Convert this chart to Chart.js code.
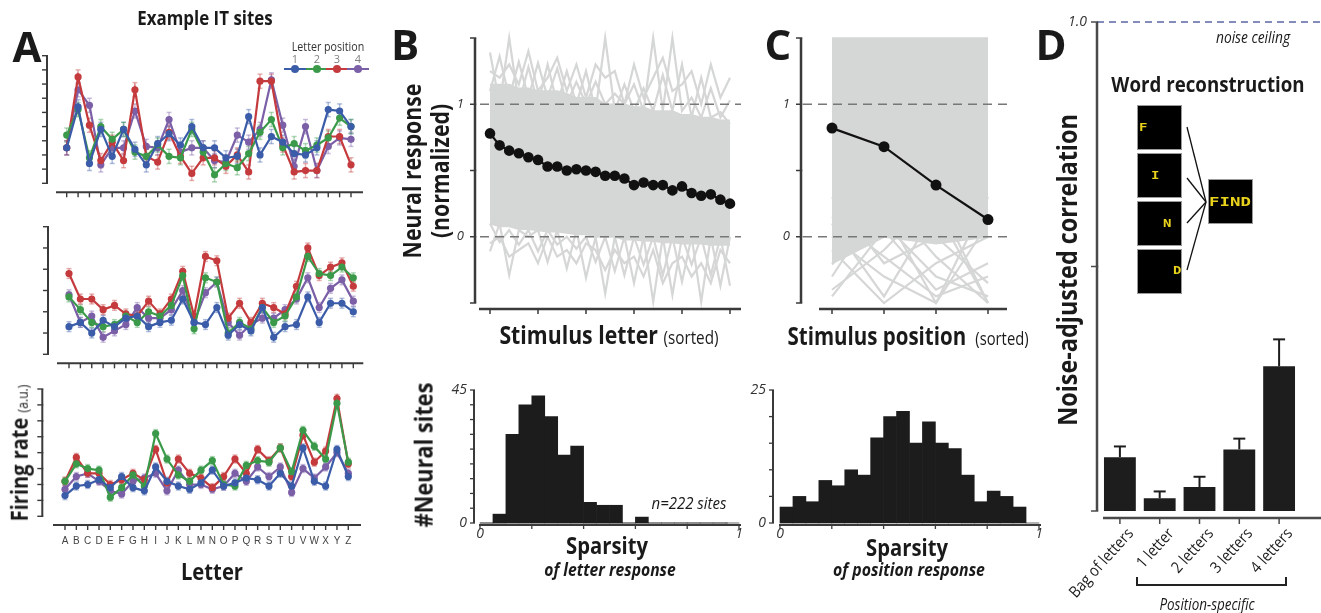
<!DOCTYPE html>
<html>
<head>
<meta charset="utf-8">
<title>Letter and position coding in IT</title>
<script src="https://cdn.jsdelivr.net/npm/chart.js@4.4.1/dist/chart.umd.min.js"></script>
<style>
  body { margin: 0; width: 1321px; height: 613px; position: relative; overflow: hidden; background: #fff; font-family: 'Open Sans', sans-serif; color: #1a1a1a; }
  canvas { position: absolute; left: 0; top: 0; }
  .lbl { position: absolute; left: 0; top: 0; white-space: nowrap; line-height: 1.15; }
  .num { position: absolute; font-size: 11px; color: #808080; line-height: 1; width: 10px; text-align: center; }
  .box { position: absolute; background: #000; border: 1px solid #9a9a9a; box-sizing: border-box; }
  .glyph { position: absolute; color: #e8d21c; font-family: 'DejaVu Sans Mono', monospace; font-weight: bold; line-height: 1; transform-origin: left top; }
</style>
</head>
<body>
<script>
const W = 1321
const H = 613

// ---------- panel A : example IT sites (firing rate, a.u.) ----------
const letters = ['A','B','C','D','E','F','G','H','I','J','K','L','M','N','O','P','Q','R','S','T','U','V','W','X','Y','Z']
const posNames = ['1', '2', '3', '4']
const posColors = ['#3b5ca8', '#3a9a4a', '#c43a3d', '#7b5fa7']
const posFaded = ['rgba(59,92,168,0.4)', 'rgba(58,154,74,0.4)', 'rgba(196,58,61,0.4)', 'rgba(123,95,167,0.4)']

const site1Pos1 = [25,54,14,38,19,38,24,13,28,35,27,40,25,25,18,19,47,20,33,29,21,20,25,52,51,40]
const site1Pos2 = [34,52,18,40,31,38,22,19,27,19,18,38,22,6,14,11,21,36,45,25,28,23,27,32,46,40]
const site1Pos3 = [25,75,41,16,29,16,66,19,15,36,19,7,18,18,12,20,8,72,72,27,8,9,9,33,33,13]
const site1Pos4 = [25,66,55,13,25,25,51,26,25,45,22,25,25,16,15,34,29,38,73,41,12,40,9,26,32,31]
const site1Err = [5, 5, 5, 5]

const site2Pos1 = [13,15,10,16,13,17,18,13,15,16,26,15,14,22,9,14,11,22,8,13,14,27,15,24,24,20]
const site2Pos2 = [27,21,15,13,14,18,15,20,18,23,37,12,36,34,10,15,12,22,15,18,27,46,38,37,41,36]
const site2Pos3 = [38,26,26,21,23,19,18,25,19,26,39,18,46,44,17,24,15,24,22,19,32,50,37,41,43,32]
const site2Pos4 = [28,15,18,8,11,14,22,17,17,21,30,15,29,34,15,9,14,17,17,21,26,36,22,31,35,25]
const site2Err = [2.3, 2.3, 2.3, 2.3]

const site3Pos1 = [13,19,20,23,18,25,18,16,31,22,19,17,21,29,19,21,24,23,19,27,19,43,22,19,42,25]
const site3Pos2 = [22,33,30,29,12,18,26,19,52,36,26,22,29,35,20,19,32,35,34,43,28,54,44,36,71,34]
const site3Pos3 = [22,37,27,27,20,23,27,23,42,21,36,27,24,18,25,36,27,42,35,43,25,51,34,41,74,33]
const site3Pos4 = [17,25,27,22,16,14,22,24,27,16,29,20,20,17,19,27,22,31,25,31,15,30,24,31,40,27]
const site3Err = [2.5, 2.5, 2.5, 2.5]

// ---------- panel B : normalized response to sorted letters ----------
const letterRanks = [1,2,3,4,5,6,7,8,9,10,11,12,13,14,15,16,17,18,19,20,21,22,23,24,25,26]
const letterMean = [0.78,0.69,0.65,0.63,0.60,0.58,0.53,0.53,0.50,0.51,0.50,0.49,0.46,0.46,0.44,0.39,0.41,0.39,0.39,0.35,0.38,0.33,0.31,0.32,0.28,0.25]
// dense part of the 222 single-site curves, then some of the curves that leave it
const letterCoreHi = [1.15,1.15,1.15,1.12,1.12,1.10,1.10,1.10,1.08,1.05,1.05,1.05,1.00,1.00,1.00,0.98,0.98,0.95,0.95,0.95,0.92,0.92,0.90,0.90,0.88,0.88]
const letterCoreLo = [0.10,0.08,0.08,0.06,0.06,0.05,0.04,0.04,0.03,0.02,0.02,0.00,0.00,0.00,-0.02,-0.02,-0.03,-0.03,-0.04,-0.04,-0.05,-0.05,-0.05,-0.06,-0.06,-0.06]
const letterSiteHi1 = [1.39,1.00,1.50,1.00,1.28,1.00,1.30,1.00,1.25,1.00,1.25,0.95,1.50,0.95,1.15,0.95,1.12,0.95,1.22,0.95,1.30,0.90,1.20,0.90,0.94,0.85]
const letterSiteHi2 = [1.10,1.36,1.05,1.32,1.05,1.31,1.05,1.27,1.00,1.17,1.00,1.17,1.00,1.08,1.00,1.15,0.95,1.50,0.95,1.50,0.95,1.05,0.90,1.12,0.90,1.03]
const letterSiteHi3 = [1.25,1.20,1.30,1.15,1.40,1.10,1.20,1.35,1.10,1.30,1.05,1.30,1.20,1.25,1.00,1.30,1.05,1.20,1.35,1.10,1.15,1.25,1.00,1.30,1.05,1.20]
const letterSiteLo1 = [-0.11,0.10,-0.29,0.05,0.00,0.05,-0.19,0.05,-0.24,0.05,-0.31,0.00,-0.43,0.00,-0.29,0.00,-0.21,0.00,-0.29,0.00,-0.34,0.00,-0.49,0.00,-0.37,0.00]
const letterSiteLo2 = [0.10,-0.04,0.05,-0.06,0.05,-0.11,0.05,-0.06,0.00,-0.09,0.00,-0.19,0.00,-0.26,0.00,-0.35,0.00,-0.49,0.00,-0.44,0.00,-0.21,0.00,-0.29,0.00,-0.37]
const letterSiteLo3 = [-0.05,0.00,-0.15,-0.10,-0.05,-0.20,0.00,-0.15,-0.10,-0.20,-0.05,-0.10,-0.25,-0.10,-0.20,-0.15,-0.30,-0.10,-0.35,-0.20,-0.15,-0.30,-0.20,-0.35,-0.10,-0.20]

// ---------- panel C : normalized response to sorted positions ----------
const positionRanks = [1, 2, 3, 4]
const positionMean = [0.82, 0.68, 0.39, 0.13]
const positionCoreHi = [1.50, 1.50, 1.50, 1.50]
const positionCoreLo = [-0.20, 0.00, -0.05, 0.00]
const positionSite1 = [-0.21, 0.20, -0.50, 0.10]
const positionSite2 = [0.10, -0.45, 0.20, -0.50]
const positionSite3 = [-0.40, -0.10, 0.30, -0.50]
const positionSite4 = [0.00, -0.30, -0.50, 0.30]
const positionSite5 = [0.20, 0.10, -0.30, -0.45]
const positionSite6 = [-0.30, 0.30, -0.15, -0.50]
const positionSite7 = [-0.10, -0.50, -0.20, 0.00]
const positionSite8 = [0.30, -0.20, 0.00, -0.35]
const positionSite9 = [-0.45, 0.05, -0.40, -0.20]
const positionSite10 = [0.15, -0.15, -0.45, -0.30]

// ---------- sparsity histograms ----------
const sparsityBinStart = [0,0.05,0.1,0.15,0.2,0.25,0.3,0.35,0.4,0.45,0.5,0.55,0.6,0.65,0.7,0.75,0.8,0.85,0.9,0.95]
const sparsityBinWidth = 0.05
const letterSparsityCounts = [0,3,30,40,43,36,23,26,7,6,6,0,2,0,0,0,0,0,0,0]
const positionSparsityCounts = [3,5,4,8,7,10,9,16,20,21,15,19,15,14,9,4,6,5,3,0]

// ---------- panel D : word reconstruction ----------
const models = ['Bag of letters', '1 letter', '2 letters', '3 letters', '4 letters']
const modelCorr = [0.110, 0.026, 0.049, 0.126, 0.296]
const modelErr = [0.022, 0.014, 0.021, 0.022, 0.055]


function seg(ctx, x0, y0, x1, y1) {
  ctx.beginPath()
  ctx.moveTo(x0, y0)
  ctx.lineTo(x1, y1)
  ctx.stroke()
}

// detached axes (spines), ticks and the few tick labels, all placed through the chart scales
function drawSpines(chart, a) {
  const ctx = chart.ctx
  const ca = chart.chartArea
  const x = chart.scales.x
  const y = chart.scales.y
  ctx.save()
  ctx.strokeStyle = a.color || '#333'
  ctx.lineWidth = a.width || 2
  const sx = ca.left - a.yGap
  seg(ctx, sx, y.getPixelForValue(y.max), sx, y.getPixelForValue(y.min))
  ctx.lineWidth = a.tickWidth || 1.5
  a.yTicks.forEach(v => {
    const p = y.getPixelForValue(v)
    seg(ctx, sx - a.tickLen, p, sx + (a.width || 2) / 2, p)
  })
  const sy = ca.bottom + a.xGap
  ctx.lineWidth = a.width || 2
  seg(ctx, ca.left - a.xExt[0], sy, ca.right + a.xExt[1], sy)
  ctx.lineWidth = a.tickWidth || 1.5
  a.xTicks.forEach(v => {
    const p = x.getPixelForValue(v)
    seg(ctx, p, sy, p, sy + a.tickLen)
  })
  ctx.fillStyle = a.labelColor || '#333'
  if (a.yLabels) {
    ctx.font = a.yFont
    ctx.textAlign = 'right'
    ctx.textBaseline = 'middle'
    a.yLabels.forEach(l => ctx.fillText(l[1], sx - a.tickLen - a.yLabelGap, y.getPixelForValue(l[0])))
  }
  if (a.xLabels) {
    ctx.font = a.xFont
    ctx.textAlign = 'center'
    ctx.textBaseline = 'top'
    a.xLabels.forEach(l => ctx.fillText(l[1], x.getPixelForValue(l[0]), sy + a.xLabelGap))
  }
  ctx.restore()
}

function drawHlines(chart, a) {
  const ctx = chart.ctx
  const ca = chart.chartArea
  const y = chart.scales.y
  a.hlines.forEach(h => {
    ctx.save()
    ctx.strokeStyle = h.color
    ctx.lineWidth = h.width
    ctx.setLineDash(h.dash || [])
    const p = y.getPixelForValue(h.v)
    seg(ctx, ca.left - h.ext[0], p, ca.right + h.ext[1], p)
    ctx.restore()
  })
}

const axesPlugin = {
  id: 'spines',
  beforeDatasetsDraw(chart) {
    const a = chart.canvas.axesCfg
    if (a && a.hlines && a.hlinesAfter === -1) drawHlines(chart, a)
  },
  afterDatasetDraw(chart, args) {
    const a = chart.canvas.axesCfg
    if (a && a.hlines && args.index === a.hlinesAfter) drawHlines(chart, a)
  },
  afterDraw(chart) {
    const a = chart.canvas.axesCfg
    if (a) drawSpines(chart, a)
  }
}

// error bars, drawn from each dataset's own errs
function drawErrs(chart, onTop) {
  const ctx = chart.ctx
  const x = chart.scales.x
  const y = chart.scales.y
  chart.data.datasets.forEach(ds => {
    if (ds.errs === undefined || !!ds.errsOnTop !== onTop) return
    ctx.save()
    ctx.strokeStyle = ds.errColor
    ctx.lineWidth = ds.errWidth || 1.5
    ds.data.forEach((v, i) => {
      const e = Array.isArray(ds.errs) ? ds.errs[i] : ds.errs
      const px = x.getPixelForValue(i)
      const top = y.getPixelForValue(v + e)
      const bot = y.getPixelForValue(ds.errUpOnly ? v : v - e)
      const c = ds.errCap || 2.5
      seg(ctx, px, bot, px, top)
      seg(ctx, px - c, top, px + c, top)
      if (!ds.errUpOnly) seg(ctx, px - c, bot, px + c, bot)
    })
    ctx.restore()
  })
}

const errPlugin = {
  id: 'errbars',
  beforeDatasetsDraw(chart) { drawErrs(chart, false) },
  afterDatasetsDraw(chart) { drawErrs(chart, true) }
}

Chart.register(axesPlugin, errPlugin)

function plotArea(left, top, right, bottom) {
  return { left: left, top: top, right: W - right, bottom: H - bottom }
}

function newChart(cfg, axes) {
  const canvas = document.createElement('canvas')
  canvas.width = W
  canvas.height = H
  canvas.axesCfg = axes
  document.body.appendChild(canvas)
  cfg.options = Object.assign({ responsive: false, animation: false, events: [] }, cfg.options)
  cfg.options.plugins = { legend: { display: false }, tooltip: { enabled: false } }
  return new Chart(canvas, cfg)
}

// one example site: four letter positions
function siteChart(series, errs, area, ymax, yTicks, yGap, xGap, xExt, withLetters) {
  const axes = {
    color: '#3a3a3a', width: 2, tickWidth: 1.4, tickLen: 5,
    yGap: yGap, yTicks: yTicks,
    xGap: xGap, xExt: xExt, xTicks: letters.map((l, i) => i)
  }
  if (withLetters) {
    axes.xLabels = letters.map((l, i) => [i, l])
    axes.xFont = '10px "Liberation Sans", Arial, sans-serif'
    axes.xLabelGap = 11
    axes.labelColor = '#444'
  }
  return newChart({
    type: 'line',
    data: {
      labels: letters,
      datasets: series.map((vals, k) => ({
        label: posNames[k],
        data: vals,
        borderColor: posColors[k],
        backgroundColor: posColors[k],
        borderWidth: 2.2,
        pointRadius: 3.6,
        pointBorderWidth: 0,
        tension: 0,
        clip: false,
        errs: errs[k],
        errColor: posFaded[k]
      }))
    },
    options: {
      layout: { padding: area },
      scales: { x: { display: false }, y: { display: false, min: 0, max: ymax } }
    }
  }, axes)
}

siteChart([site1Pos1, site1Pos2, site1Pos3, site1Pos4], site1Err, plotArea(66.7, 55.7, 351, 183.3), 90,
  [0,10,20,30,40,50,60,70,80,90], 19.7, 9, [10.7, 12], false)
siteChart([site2Pos1, site2Pos2, site2Pos3, site2Pos4], site2Err, plotArea(69, 226.7, 353.3, 354.3), 60,
  [0,10,20,30,40,50,60], 21, 9, [12, 10], false)
siteChart([site3Pos1, site3Pos2, site3Pos3, site3Pos4], site3Err, plotArea(65, 389, 348.3, 516.3), 80,
  [0,10,20,30,40,50,60,70,80], 22.7, 8.7, [12, 12.7], true)

// sorted response panels (B and C top)
const grey = '#d5d6d6'
function greyLine(vals) {
  return { data: vals, borderColor: grey, borderWidth: 2.2, pointRadius: 0, tension: 0, clip: false, fill: false }
}

function sortedChart(ranks, mean, coreHi, coreLo, sites, area, yGap, xExt, xTicks, hlineExt, meanRadius) {
  const datasets = [
    { data: mean, borderColor: '#111', backgroundColor: '#111', borderWidth: 2.2, pointRadius: meanRadius, pointBorderWidth: 0, tension: 0, clip: false },
    { data: coreHi, borderColor: grey, backgroundColor: grey, borderWidth: 1.5, pointRadius: 0, tension: 0, clip: false, fill: '+1' },
    greyLine(coreLo)
  ].concat(sites.map(greyLine))
  const it = 'italic 13px "Open Sans", sans-serif'
  return newChart({
    type: 'line',
    data: { labels: ranks, datasets: datasets },
    options: {
      layout: { padding: area },
      scales: { x: { display: false }, y: { display: false, min: -0.5, max: 1.5 } }
    }
  }, {
    color: '#3a3a3a', width: 2.5, tickWidth: 1.5, tickLen: 5,
    yGap: yGap, yTicks: [-0.5, 0, 0.5, 1, 1.5],
    yLabels: [[0, '0'], [1, '1']], yFont: it, yLabelGap: 6,
    xGap: 6, xExt: xExt, xTicks: xTicks,
    hlines: [
      { v: 0, ext: hlineExt, color: '#777', width: 1.3, dash: [9, 6] },
      { v: 1, ext: hlineExt, color: '#777', width: 1.3, dash: [9, 6] }
    ],
    hlinesAfter: 1
  })
}

sortedChart(letterRanks, letterMean, letterCoreHi, letterCoreLo,
  [letterSiteHi1, letterSiteHi2, letterSiteHi3, letterSiteLo1, letterSiteLo2, letterSiteLo3],
  plotArea(490, 38, 730, 303), 15, [11, 11], [0, 5, 10, 15, 20, 25], [10, 11], 5.3)
sortedChart(positionRanks, positionMean, positionCoreHi, positionCoreLo,
  [positionSite1, positionSite2, positionSite3, positionSite4, positionSite5,
    positionSite6, positionSite7, positionSite8, positionSite9, positionSite10],
  plotArea(832, 38, 988, 303), 31, [13, 19], [0, 1, 2, 3], [29, 19], 5.5)

// sparsity histograms
function histChart(counts, area, ymax, yTicks, topLabel, yGap, baseline) {
  const axes = {
    color: '#3a3a3a', width: 2, tickWidth: 1.3, tickLen: 4,
    yGap: yGap, yTicks: yTicks,
    yLabels: [[0, '0'], [ymax, topLabel]], yFont: 'italic 14px "Open Sans", sans-serif', yLabelGap: 3,
    xGap: 2, xExt: [1, 2], xTicks: [0, 0.2, 0.4, 0.6, 0.8, 1],
    xLabels: [[0, '0'], [1, '1']], xFont: 'italic 14px "Open Sans", sans-serif', xLabelGap: 2
  }
  if (baseline) {
    axes.hlines = [{ v: 0, ext: [0, -11], color: '#b5b5b5', width: 1.5 }]
    axes.hlinesAfter = -1
  }
  return newChart({
    type: 'bar',
    data: {
      datasets: [{
        data: sparsityBinStart.map((b, i) => ({ x: b + sparsityBinWidth / 2, y: counts[i] })),
        backgroundColor: '#1c1c1c',
        borderWidth: 0,
        barPercentage: 1,
        categoryPercentage: 1,
        clip: false
      }]
    },
    options: {
      layout: { padding: area },
      scales: {
        x: { type: 'linear', display: false, min: 0, max: 1, offset: false },
        y: { display: false, min: 0, max: ymax }
      }
    }
  }, axes)
}

histChart(letterSparsityCounts, plotArea(480, 390, 739, 523), 45, [0,5,10,15,20,25,30,35,40,45], '45', 6, true)
histChart(positionSparsityCounts, plotArea(780, 390, 1039, 523), 25, [0,5,10,15,20,25], '25', 7, false)

// word reconstruction bars
const dChart = newChart({
  type: 'bar',
  data: {
    labels: models,
    datasets: [{
      data: modelCorr,
      backgroundColor: '#1d1d1d',
      barPercentage: 0.8,
      categoryPercentage: 1,
      errs: modelErr,
      errUpOnly: true,
      errsOnTop: true,
      errColor: '#1d1d1d',
      errWidth: 2,
      errCap: 6,
      clip: false
    }]
  },
  options: {
    layout: { padding: plotArea(1100, 22, 1299, 511) },
    scales: { x: { display: false }, y: { display: false, min: 0, max: 1 } }
  }
}, {
  color: '#4a4a4a', width: 2.5, tickWidth: 1.5, tickLen: 6,
  yGap: 3, yTicks: [0, 0.5, 1],
  yLabels: [[1, '1.0']], yFont: 'italic 14px "Open Sans", sans-serif', yLabelGap: 4,
  xGap: 7, xExt: [-3, 22], xTicks: [0, 1, 2, 3, 4],
  hlines: [{ v: 1, ext: [3, 22], color: '#5b67a6', width: 1.3, dash: [7, 5] }],
  hlinesAfter: 0
})


// ---------- text ----------
function label(html, cx, cy, css, rot, sx) {
  const d = document.createElement('div')
  d.className = 'lbl'
  d.innerHTML = html
  d.style.cssText += css
  document.body.appendChild(d)
  d.style.transform = 'translate(' + cx + 'px,' + cy + 'px) translate(-50%,-50%) rotate(' + (rot || 0) + 'deg) scaleX(' + (sx || 1) + ')'
  return d
}

const bold = 'font-weight:700;'
label('A', 27, 46, bold + 'font-size:42px;')
label('B', 405, 44, bold + 'font-size:42px;')
label('C', 778, 44, bold + 'font-size:42px;')
label('D', 1051, 44, bold + 'font-size:42px;')

label('Example IT sites', 205, 19, bold + 'font-size:19px;', 0, 0.89)
label('Letter position', 328, 46, 'font-size:13px;color:#333;', 0, 0.82)
// legend: position number, line and dot for each letter position
const legendX = [295, 317, 337, 358]
posNames.forEach((n, k) => {
  const cx = legendX[k]
  const num = document.createElement('div')
  num.className = 'num'
  num.textContent = n
  num.style.left = (cx - 5) + 'px'
  num.style.top = '53px'
  document.body.appendChild(num)
  const ln = document.createElement('div')
  ln.style.cssText = 'position:absolute;left:' + (cx - 11) + 'px;top:68px;width:22px;height:2px;background:' + posColors[k]
  document.body.appendChild(ln)
  const dot = document.createElement('div')
  dot.style.cssText = 'position:absolute;left:' + (cx - 4) + 'px;top:65px;width:8px;height:8px;border-radius:50%;background:' + posColors[k]
  document.body.appendChild(dot)
})
label('Letter', 212, 571, bold + 'font-size:23px;', 0, 0.88)
label('Firing rate <span style="font-weight:400;font-size:14px">(a.u.)</span>', 19, 453, bold + 'font-size:23px;', -90, 0.87)

label('Neural response', 411, 171, bold + 'font-size:25px;', -90, 0.85)
label('(normalized)', 439, 171, bold + 'font-size:25px;', -90, 0.85)
label('Stimulus letter <span style="font-weight:400;font-size:18px">(sorted)</span>', 609, 334, bold + 'font-size:25px;', 0, 0.85)
label('Stimulus position <span style="font-weight:400;font-size:18px">&nbsp;(sorted)</span>', 908, 335, bold + 'font-size:25px;', 0, 0.82)

label('#Neural sites', 423, 455, bold + 'font-size:25px;', -90, 0.87)
label('Sparsity', 607, 545, bold + 'font-size:23px;', 0, 0.88)
label('of letter response', 610, 569, bold + 'font-style:italic;font-size:18px;', 0, 0.87)
label('n=222 sites', 689, 503, 'font-style:italic;font-size:17px;', 0, 0.88)
label('Sparsity', 907, 547, bold + 'font-size:23px;', 0, 0.88)
label('of position response', 909, 569, bold + 'font-style:italic;font-size:18px;', 0, 0.88)

label('Noise-adjusted correlation', 1068, 270, bold + 'font-size:26px;', -90, 0.9)
label('noise ceiling', 1253, 37, 'font-style:italic;font-size:16px;', 0, 0.86)
label('Word reconstruction', 1208, 84, bold + 'font-size:21px;', 0, 0.89)

// rotated model names under the bars
models.forEach((m, i) => {
  const d = document.createElement('div')
  d.className = 'lbl'
  d.textContent = m
  d.style.fontSize = '16px'
  document.body.appendChild(d)
  const ax = dChart.scales.x.getPixelForValue(i) + 10
  d.style.left = (ax - d.offsetWidth) + 'px'
  d.style.top = (530 - d.offsetHeight / 2) + 'px'
  d.style.transformOrigin = 'right center'
  d.style.transform = 'rotate(-48deg) scaleX(0.88)'
})
const bracket = document.createElement('div')
bracket.style.cssText = 'position:absolute;left:1136px;top:577px;width:151px;height:9px;border:2px solid #222;border-top:none;box-sizing:border-box'
document.body.appendChild(bracket)
label('Position-specific', 1207, 604, 'font-style:italic;font-size:16px;', 0, 0.84)

// inset: letters at four positions combined into a word
const insetTops = [105, 153, 201, 249]
insetTops.forEach(t => {
  const b = document.createElement('div')
  b.className = 'box'
  b.style.cssText += 'left:1137px;top:' + t + 'px;width:45px;height:45px;'
  document.body.appendChild(b)
})
const findBox = document.createElement('div')
findBox.className = 'box'
findBox.style.cssText += 'left:1208px;top:179px;width:45px;height:45px;'
document.body.appendChild(findBox)
function glyph(txt, x, y, size, sx) {
  const g = document.createElement('div')
  g.className = 'glyph'
  g.textContent = txt
  g.style.left = x + 'px'
  g.style.top = y + 'px'
  g.style.fontSize = size + 'px'
  g.style.transform = 'scaleX(' + sx + ')'
  document.body.appendChild(g)
}
glyph('F', 1139, 123, 10, 1.4)
glyph('I', 1151, 171, 10, 1.4)
glyph('N', 1163, 219, 10, 1.4)
glyph('D', 1173, 266, 10, 1.4)
glyph('FIND', 1209, 196, 12, 1.45)
const svgNS = 'http://www.w3.org/2000/svg'
const svg = document.createElementNS(svgNS, 'svg')
svg.setAttribute('width', W)
svg.setAttribute('height', H)
svg.style.cssText = 'position:absolute;left:0;top:0'
const arrowStarts = [127, 178, 223, 270]
arrowStarts.forEach(y0 => {
  const l = document.createElementNS(svgNS, 'line')
  l.setAttribute('x1', 1187)
  l.setAttribute('y1', y0)
  l.setAttribute('x2', 1206)
  l.setAttribute('y2', 202)
  l.setAttribute('stroke', '#111')
  l.setAttribute('stroke-width', 1.3)
  svg.appendChild(l)
})
document.body.appendChild(svg)
</script>
</body>
</html>
